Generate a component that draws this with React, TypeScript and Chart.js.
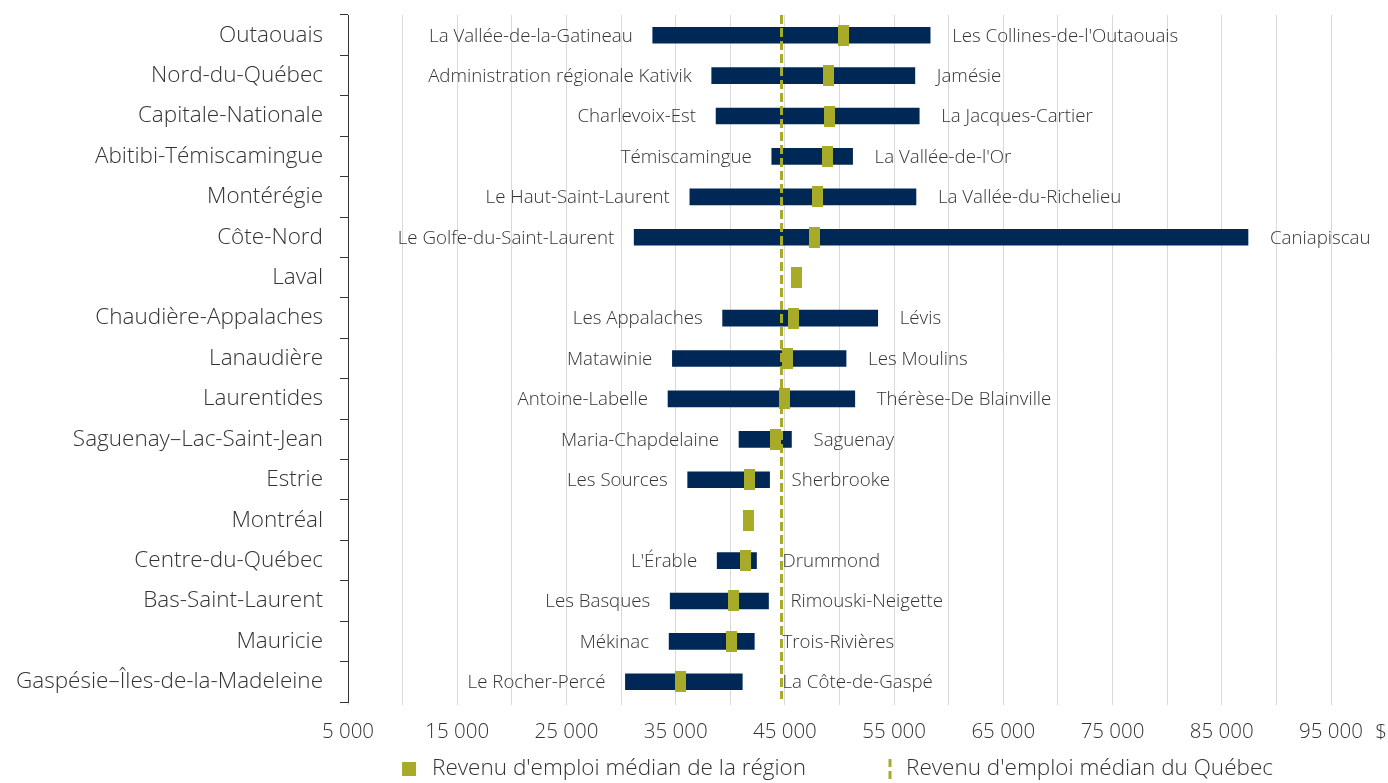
import React, { useEffect, useRef } from "react";
import { Chart, registerables } from "chart.js";

Chart.register(...registerables);

const REGIONS = [
  "Outaouais",
  "Nord-du-Québec",
  "Capitale-Nationale",
  "Abitibi-Témiscamingue",
  "Montérégie",
  "Côte-Nord",
  "Laval",
  "Chaudière-Appalaches",
  "Lanaudière",
  "Laurentides",
  "Saguenay–Lac-Saint-Jean",
  "Estrie",
  "Montréal",
  "Centre-du-Québec",
  "Bas-Saint-Laurent",
  "Mauricie",
  "Gaspésie–Îles-de-la-Madeleine",
];

const MIN_MRC = [
  "La Vallée-de-la-Gatineau",
  "Administration régionale Kativik",
  "Charlevoix-Est",
  "Témiscamingue",
  "Le Haut-Saint-Laurent",
  "Le Golfe-du-Saint-Laurent",
  "",
  "Les Appalaches",
  "Matawinie",
  "Antoine-Labelle",
  "Maria-Chapdelaine",
  "Les Sources",
  "",
  "L'Érable",
  "Les Basques",
  "Mékinac",
  "Le Rocher-Percé",
];

const MAX_MRC = [
  "Les Collines-de-l'Outaouais",
  "Jamésie",
  "La Jacques-Cartier",
  "La Vallée-de-l'Or",
  "La Vallée-du-Richelieu",
  "Caniapiscau",
  "",
  "Lévis",
  "Les Moulins",
  "Thérèse-De Blainville",
  "Saguenay",
  "Sherbrooke",
  "",
  "Drummond",
  "Rimouski-Neigette",
  "Trois-Rivières",
  "La Côte-de-Gaspé",
];

const MIN_VALUES: (number | null)[] = [
  32900, 38300, 38700, 43800, 36300, 31200, null, 39300, 34700, 34300, 40800,
  36100, null, 38800, 34500, 34400, 30400,
];

const MAX_VALUES: (number | null)[] = [
  58300, 56900, 57300, 51200, 57000, 87400, null, 53500, 50600, 51400, 45600,
  43600, null, 42400, 43500, 42200, 41100,
];

const REGION_MEDIANS = [
  50400, 49000, 49100, 48900, 48000, 47700, 46100, 45800, 45200, 45000, 44100,
  41800, 41700, 41400, 40300, 40100, 35400,
];

const QUEBEC_MEDIAN = 44600;

const X_MIN = 5000;
const X_MAX = 95000;
const X_STEP = 5000;
const X_UNIT = "$";

const LEGEND_REGION = "Revenu d'emploi médian de la région";
const LEGEND_QUEBEC = "Revenu d'emploi médian du Québec";

const NAVY = "#002856";
const OLIVE = "#A8AB27";
const TEXT = "#333333";
const GRID = "#d9d9d9";
const AXIS = "#333333";
const FONT = "'Open Sans', 'Noto Sans', sans-serif";
const WEIGHT = "300";

function fmt(v: number): string {
  return String(Math.round(v)).replace(/\B(?=(\d{3})+(?!\d))/g, " ");
}

export default function App() {
  const ref = useRef<HTMLCanvasElement | null>(null);

  useEffect(() => {
    const canvas = ref.current;
    if (!canvas) return;

    const marker = document.createElement("canvas");
    marker.width = 11;
    marker.height = 21;
    const mctx = marker.getContext("2d");
    if (mctx) {
      mctx.fillStyle = OLIVE;
      mctx.fillRect(0, 0, 11, 21);
    }

    const overlay = {
      id: "overlay",
      afterDatasetsDraw(chart: any) {
        const { ctx, chartArea, scales } = chart;
        const xs = scales.x;
        const ys = scales.y;
        const qx = xs.getPixelForValue(QUEBEC_MEDIAN);

        ctx.save();
        ctx.font = `${WEIGHT} 18.7px ${FONT}`;
        ctx.fillStyle = TEXT;
        ctx.textBaseline = "middle";
        for (let i = 0; i < REGIONS.length; i++) {
          const lo = MIN_VALUES[i];
          const hi = MAX_VALUES[i];
          const cy = ys.getPixelForValue(i) + 1;
          if (lo != null && MIN_MRC[i]) {
            ctx.textAlign = "right";
            ctx.fillText(MIN_MRC[i], xs.getPixelForValue(lo) - 20, cy);
          }
          if (hi != null && MAX_MRC[i]) {
            ctx.textAlign = "left";
            const px = Math.max(xs.getPixelForValue(hi) + 22, qx + 2);
            ctx.fillText(MAX_MRC[i], px, cy);
          }
        }

        ctx.strokeStyle = OLIVE;
        ctx.lineWidth = 3;
        ctx.setLineDash([9, 4]);
        ctx.beginPath();
        ctx.moveTo(Math.round(qx) + 0.5, chartArea.top);
        ctx.lineTo(Math.round(qx) + 0.5, chartArea.bottom - 3);
        ctx.stroke();
        ctx.restore();
      },
      afterDraw(chart: any) {
        const { ctx, chartArea, scales } = chart;
        const xs = scales.x;
        ctx.save();
        ctx.fillStyle = TEXT;
        ctx.textBaseline = "middle";
        ctx.font = `${WEIGHT} 20.5px ${FONT}`;
        ctx.textAlign = "center";
        ctx.fillText(X_UNIT, xs.right + 50, chartArea.bottom + 31);

        ctx.font = `${WEIGHT} 22.5px ${FONT}`;
        const w1 = ctx.measureText(LEGEND_REGION).width;
        const w2 = ctx.measureText(LEGEND_QUEBEC).width;
        const total = 14 + 16 + w1 + 84 + 16 + w2;
        const cx = (chartArea.left + chartArea.right) / 2;
        let lx = cx - total / 2 - 2;
        const ly = 769;
        ctx.fillStyle = OLIVE;
        ctx.fillRect(lx, ly - 7, 14, 14);
        ctx.fillStyle = TEXT;
        ctx.textAlign = "left";
        ctx.fillText(LEGEND_REGION, lx + 30, ly);
        lx = lx + 30 + w1 + 84;
        ctx.strokeStyle = OLIVE;
        ctx.lineWidth = 3;
        ctx.setLineDash([8, 4]);
        ctx.beginPath();
        ctx.moveTo(lx, ly - 10);
        ctx.lineTo(lx, ly + 10);
        ctx.stroke();
        ctx.fillText(LEGEND_QUEBEC, lx + 16, ly);
        ctx.restore();
      },
    };

    const chart = new Chart(canvas, {
      type: "bar",
      data: {
        labels: REGIONS,
        datasets: [
          {
            type: "bar",
            label: "range",
            data: MIN_VALUES.map((lo, i) =>
              lo == null || MAX_VALUES[i] == null ? null : [lo, MAX_VALUES[i] as number]
            ) as any,
            backgroundColor: NAVY,
            borderWidth: 0,
            barThickness: 16,
            grouped: false,
            order: 2,
          },
          {
            type: "line",
            label: "median",
            data: REGION_MEDIANS as any,
            showLine: false,
            pointStyle: marker as any,
            pointRadius: 10,
            pointHoverRadius: 10,
            indexAxis: "y",
            order: 1,
          } as any,
        ],
      },
      options: {
        indexAxis: "y",
        responsive: false,
        animation: false,
        events: [],
        layout: { padding: { top: 15, right: 57, bottom: 41, left: 0 } },
        plugins: {
          legend: { display: false },
          tooltip: { enabled: false },
        },
        scales: {
          x: {
            type: "linear",
            min: X_MIN,
            max: X_MAX,
            position: "bottom",
            border: { display: false },
            grid: { color: GRID, lineWidth: 1, tickLength: 3, drawTicks: true },
            ticks: {
              stepSize: X_STEP,
              autoSkip: false,
              maxRotation: 0,
              padding: 15,
              color: TEXT,
              font: { family: FONT, size: 20.5, weight: WEIGHT as any },
              callback: (v: any) =>
                (Number(v) - X_MIN) % (2 * X_STEP) === 0 ? fmt(Number(v)) : "",
            },
            afterFit: (s: any) => {
              s.height = 40;
              s.paddingLeft = 0;
              s.paddingRight = 0;
            },
          },
          y: {
            type: "category",
            offset: true,
            border: { display: true, color: AXIS, width: 1 },
            grid: {
              display: true,
              drawOnChartArea: false,
              offset: true,
              tickLength: 8,
              color: AXIS,
              lineWidth: 1,
            },
            ticks: {
              padding: 17,
              color: TEXT,
              autoSkip: false,
              font: { family: FONT, size: 22.5, weight: WEIGHT as any },
            },
            afterFit: (s: any) => {
              s.width = 348;
              s.paddingTop = 0;
              s.paddingBottom = 0;
            },
          },
        },
      },
      plugins: [overlay],
    });

    return () => {
      chart.destroy();
    };
  }, []);

  return (
    <div style={{ position: "absolute", left: 0, top: 0, width: 1388, height: 783, background: "#fff" }}>
      <canvas ref={ref} width={1388} height={783} style={{ display: "block" }} />
    </div>
  );
}
